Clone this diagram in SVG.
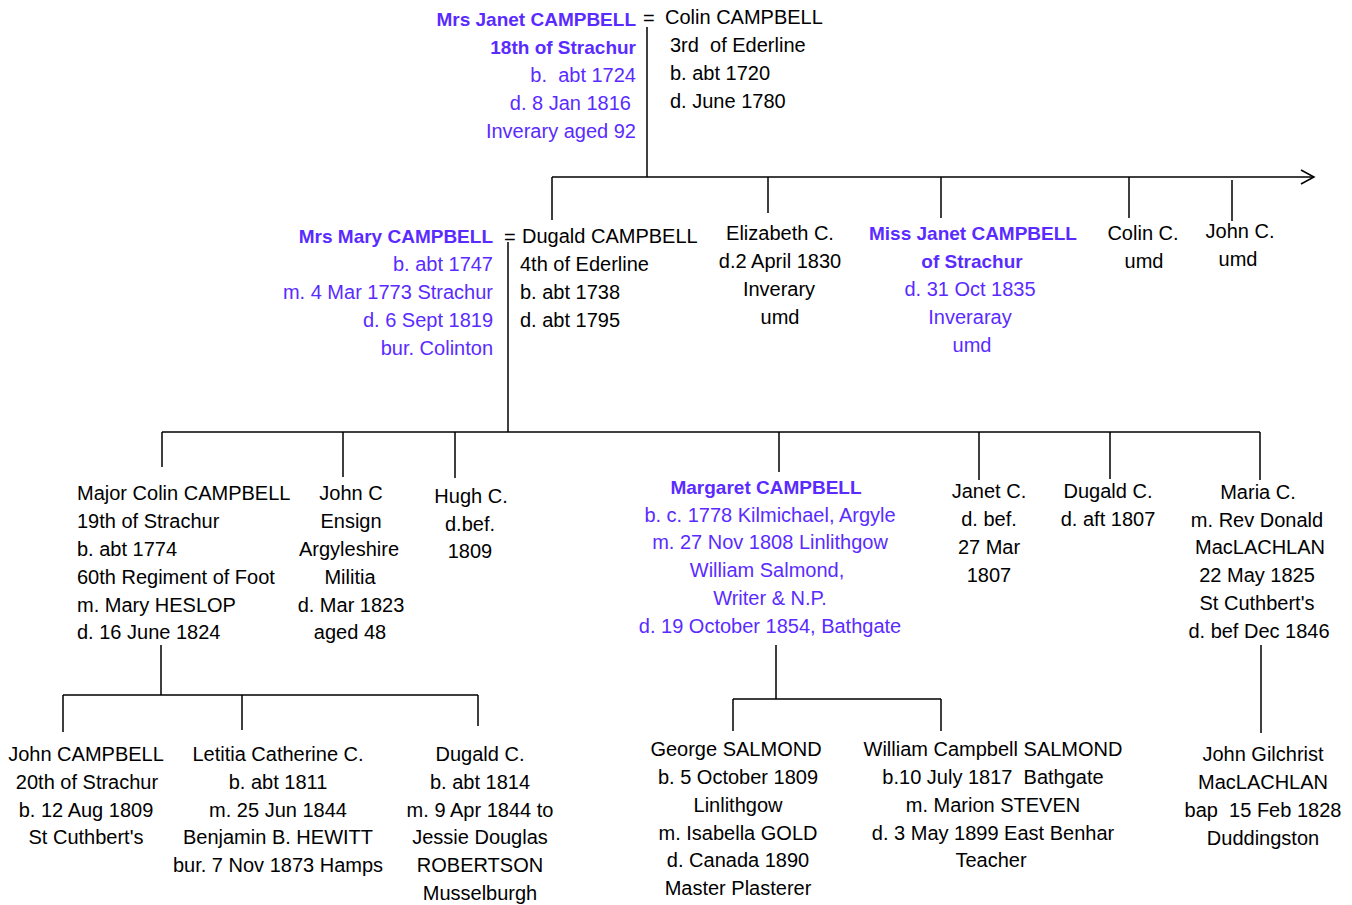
<svg xmlns="http://www.w3.org/2000/svg" width="1352" height="905" viewBox="0 0 1352 905" xml:space="preserve">
<style>
text{font-family:"Liberation Sans",Arial,sans-serif;font-size:20px;fill:#000;white-space:pre}
.p{fill:#5a2bff}
.b{font-weight:bold;font-size:19px}
.r{text-anchor:end}
.m{text-anchor:middle}
.ln{stroke:#000;stroke-width:1.5;fill:none}
</style>
<defs>
<marker id="arr" markerWidth="16" markerHeight="16" refX="14" refY="8" orient="auto" markerUnits="userSpaceOnUse">
<path d="M1,1 L14,8 L1,15" fill="none" stroke="#000" stroke-width="1.5"/>
</marker>
</defs>
<g id="connectors" class="ln">
<path d="M647,27 V177"/>
<path d="M552,177 H1314" marker-end="url(#arr)"/>
<path d="M552,177 V220 M768,177 V213 M941,177 V218 M1129,177 V218 M1232,180 V221"/>
<path d="M508,242 V432"/>
<path d="M162,432 H1260"/>
<path d="M162,432 V467 M343,432 V477 M455,432 V478 M779,432 V472 M979,432 V480 M1110,432 V479 M1260,432 V480"/>
<path d="M161,645 V695 M63,695 H478 M63,695 V732 M242,695 V730 M478,695 V726"/>
<path d="M776,645 V699 M733,699 H941 M733,699 V731 M941,699 V731"/>
<path d="M1261,645 V733"/>
</g>
<g id="janet-sr">
<text x="636" y="26" class="p r b">Mrs Janet CAMPBELL</text>
<text x="636" y="54" class="p r b">18th of Strachur</text>
<text x="636" y="82" class="p r">b.  abt 1724</text>
<text x="631" y="110" class="p r">d. 8 Jan 1816</text>
<text x="636" y="138" class="p r">Inverary aged 92</text>
</g>
<g id="colin-sr">
<text x="643" y="25">=</text>
<text x="665" y="24">Colin CAMPBELL</text>
<text x="670" y="52">3rd  of Ederline</text>
<text x="670" y="80">b. abt 1720</text>
<text x="670" y="108">d. June 1780</text>
</g>
<g id="mary">
<text x="493" y="243" class="p r b">Mrs Mary CAMPBELL</text>
<text x="493" y="271" class="p r">b. abt 1747</text>
<text x="493" y="299" class="p r">m. 4 Mar 1773 Strachur</text>
<text x="493" y="327" class="p r">d. 6 Sept 1819</text>
<text x="493" y="355" class="p r">bur. Colinton</text>
</g>
<g id="dugald-sr">
<text x="504" y="244">=</text>
<text x="522" y="243">Dugald CAMPBELL</text>
<text x="520" y="271">4th of Ederline</text>
<text x="520" y="299">b. abt 1738</text>
<text x="520" y="327">d. abt 1795</text>
</g>
<g id="elizabeth">
<text x="780" y="240" class="m">Elizabeth C.</text>
<text x="780" y="268" class="m">d.2 April 1830</text>
<text x="779" y="296" class="m">Inverary</text>
<text x="780" y="324" class="m">umd</text>
</g>
<g id="miss-janet">
<text x="973" y="240" class="p m b">Miss Janet CAMPBELL</text>
<text x="972" y="268" class="p m b">of Strachur</text>
<text x="970" y="296" class="p m">d. 31 Oct 1835</text>
<text x="970" y="324" class="p m">Inveraray</text>
<text x="972" y="352" class="p m">umd</text>
</g>
<g id="colin-c">
<text x="1143" y="240" class="m">Colin C.</text>
<text x="1144" y="268" class="m">umd</text>
</g>
<g id="john-c">
<text x="1240" y="238" class="m">John C.</text>
<text x="1238" y="266" class="m">umd</text>
</g>
<g id="major-colin">
<text x="77" y="500">Major Colin CAMPBELL</text>
<text x="77" y="528">19th of Strachur</text>
<text x="77" y="556">b. abt 1774</text>
<text x="77" y="584">60th Regiment of Foot</text>
<text x="77" y="612">m. Mary HESLOP</text>
<text x="77" y="639">d. 16 June 1824</text>
</g>
<g id="john-ensign">
<text x="351" y="500" class="m">John C</text>
<text x="351" y="528" class="m">Ensign</text>
<text x="349" y="556" class="m">Argyleshire</text>
<text x="350" y="584" class="m">Militia</text>
<text x="351" y="612" class="m">d. Mar 1823</text>
<text x="350" y="639" class="m">aged 48</text>
</g>
<g id="hugh">
<text x="471" y="503" class="m">Hugh C.</text>
<text x="470" y="531" class="m">d.bef.</text>
<text x="470" y="558" class="m">1809</text>
</g>
<g id="margaret">
<text x="766" y="494" class="p m b">Margaret CAMPBELL</text>
<text x="770" y="522" class="p m">b. c. 1778 Kilmichael, Argyle</text>
<text x="770" y="549" class="p m">m. 27 Nov 1808 Linlithgow</text>
<text x="767" y="577" class="p m">William Salmond,</text>
<text x="770" y="605" class="p m">Writer &amp; N.P.</text>
<text x="770" y="633" class="p m">d. 19 October 1854, Bathgate</text>
</g>
<g id="janet-c">
<text x="989" y="498" class="m">Janet C.</text>
<text x="989" y="526" class="m">d. bef.</text>
<text x="989" y="554" class="m">27 Mar</text>
<text x="989" y="582" class="m">1807</text>
</g>
<g id="dugald-c">
<text x="1108" y="498" class="m">Dugald C.</text>
<text x="1108" y="526" class="m">d. aft 1807</text>
</g>
<g id="maria">
<text x="1258" y="499" class="m">Maria C.</text>
<text x="1257" y="527" class="m">m. Rev Donald</text>
<text x="1260" y="554" class="m">MacLACHLAN</text>
<text x="1257" y="582" class="m">22 May 1825</text>
<text x="1257" y="610" class="m">St Cuthbert's</text>
<text x="1259" y="638" class="m">d. bef Dec 1846</text>
</g>
<g id="john-campbell">
<text x="86" y="761" class="m">John CAMPBELL</text>
<text x="87" y="789" class="m">20th of Strachur</text>
<text x="86" y="817" class="m">b. 12 Aug 1809</text>
<text x="86" y="844" class="m">St Cuthbert's</text>
</g>
<g id="letitia">
<text x="278" y="761" class="m">Letitia Catherine C.</text>
<text x="278" y="789" class="m">b. abt 1811</text>
<text x="278" y="817" class="m">m. 25 Jun 1844</text>
<text x="278" y="844" class="m">Benjamin B. HEWITT</text>
<text x="278" y="872" class="m">bur. 7 Nov 1873 Hamps</text>
</g>
<g id="dugald-jr">
<text x="480" y="761" class="m">Dugald C.</text>
<text x="480" y="789" class="m">b. abt 1814</text>
<text x="480" y="817" class="m">m. 9 Apr 1844 to</text>
<text x="480" y="844" class="m">Jessie Douglas</text>
<text x="480" y="872" class="m">ROBERTSON</text>
<text x="480" y="900" class="m">Musselburgh</text>
</g>
<g id="george">
<text x="736" y="756" class="m">George SALMOND</text>
<text x="738" y="784" class="m">b. 5 October 1809</text>
<text x="738" y="812" class="m">Linlithgow</text>
<text x="738" y="840" class="m">m. Isabella GOLD</text>
<text x="738" y="867" class="m">d. Canada 1890</text>
<text x="738" y="895" class="m">Master Plasterer</text>
</g>
<g id="william">
<text x="993" y="756" class="m">William Campbell SALMOND</text>
<text x="993" y="784" class="m">b.10 July 1817  Bathgate</text>
<text x="993" y="812" class="m">m. Marion STEVEN</text>
<text x="993" y="840" class="m">d. 3 May 1899 East Benhar</text>
<text x="991" y="867" class="m">Teacher</text>
</g>
<g id="john-gilchrist">
<text x="1263" y="761" class="m">John Gilchrist</text>
<text x="1263" y="789" class="m">MacLACHLAN</text>
<text x="1263" y="817" class="m">bap  15 Feb 1828</text>
<text x="1263" y="845" class="m">Duddingston</text>
</g>
</svg>
